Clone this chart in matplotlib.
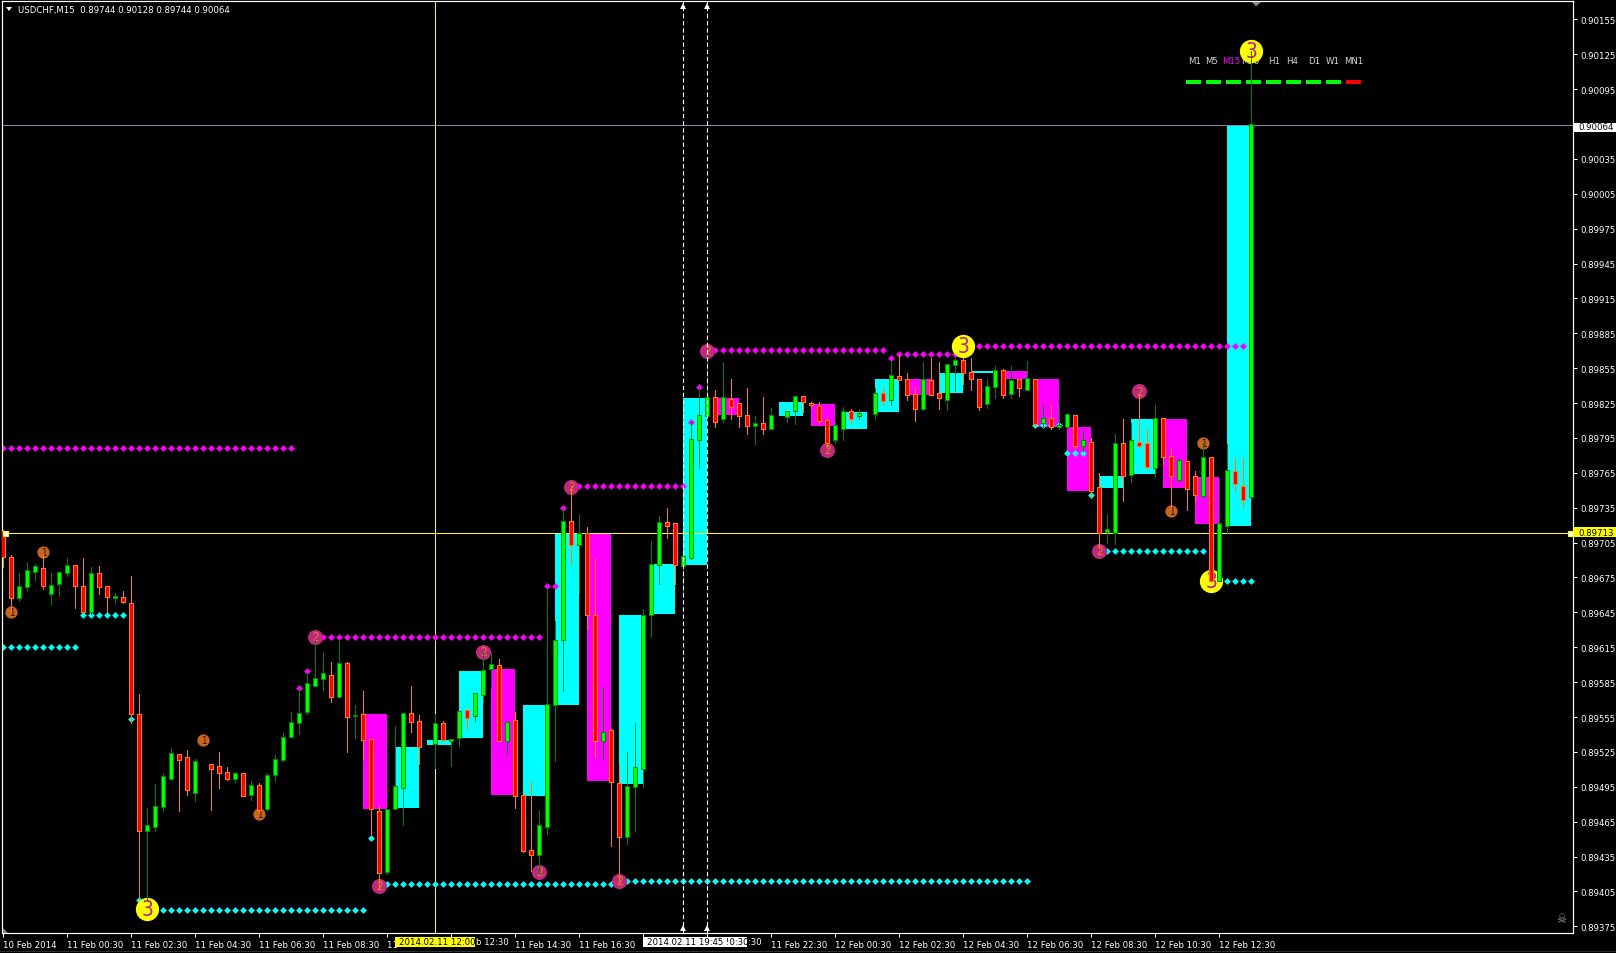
import numpy as np
import matplotlib
matplotlib.use("Agg")
import matplotlib.pyplot as plt
from matplotlib.lines import Line2D
from matplotlib.patches import Polygon, Rectangle

W, H = 1616, 954
n = np.nan

# USDCHF M15 candles, prices in 1e-5 (np.nan where no candle can be seen)
opens = [89714, 89692, 89657, 89667, 89680, 89682, 89661, 89669, 89679, 89685,
         89667, 89645, 89678, 89667, 89657, 89657, 89652, 89557, 89457, 89460,
         89478, 89502, 89522, 89520, 89490, n, 89514, 89512, 89507, 89502,
         89506, 89488, 89496, 89476, 89505, 89518, 89538, 89550, 89559, 89582,
         89588, 89590, 89572, 89601, 89556, 89557, 89535, 89473, 89422, 89476,
         89494, 89558, 89551, n, 89532, 89549, 89534, 89537, 89560, 89556,
         89574, 89596, 89599, 89534, 89552, 89487, 89440, 89436, 89460, 89565,
         89621, 89723, 89703, 89712, 89642, 89534, 89543, 89497, 89452, 89495,
         89510, 89643, 89686, 89722, 89721, 89685, 89692, 89793, 89814, 89829,
         89811, 89828, 89824, 89814, 89805, 89807, 89803, n, 89813, 89818,
         89830, 89824, 89822, 89810, 89793, 89803, 89817, 89814, n, 89816,
         89833, 89828, 89847, 89845, 89832, 89820, 89844, 89833, 89828, 89858,
         89861, 89851, 89845, 89824, 89839, 89853, 89833, 89845, 89836, 89845,
         89808, 89811, 89804, 89804, 89814, 89788, 89791, 89752, 89714, 89713,
         89790, 89763, 89791, 89790, 89769, 89811, 89779, 89759, 89774, 89761,
         89745, 89778, 89672, 89719, 89766, 89753, 89744]
highs = [89716, 89694, 89679, 89688, 89687, 89694, 89679, 89679, 89692, 89685,
         89692, 89684, 89685, 89667, 89662, 89663, 89676, 89575, 89477, 89497,
         89507, 89528, 89522, 89527, 89519, n, 89515, 89525, 89512, 89508,
         89506, 89500, 89498, 89507, 89522, 89541, 89559, 89579, 89593, 89622,
         89611, 89602, 89622, 89602, 89565, 89577, 89535, 89479, 89475, 89547,
         89558, 89582, 89557, n, 89558, 89552, 89535, 89559, 89562, 89575,
         89611, 89611, 89605, 89550, 89559, 89488, 89500, 89475, 89666, 89638,
         89734, 89754, 89729, 89718, 89692, 89581, 89545, 89514, 89525, 89550,
         89648, 89706, 89728, 89735, 89721, 89693, 89809, 89838, 89869, 89836,
         89860, 89846, 89824, 89838, 89814, 89830, 89821, n, 89817, 89830,
         89830, 89826, 89826, 89812, 89810, 89822, 89820, 89820, n, 89838,
         89838, 89861, 89866, 89851, 89839, 89860, 89864, 89860, 89859, 89864,
         89864, 89864, 89846, 89846, 89857, 89854, 89857, 89846, 89861, 89845,
         89823, 89823, 89824, 89815, 89814, 89801, 89795, 89765, 89730, 89798,
         89811, 89808, 89834, 89803, 89823, 89812, 89786, 89778, 89774, 89767,
         89791, 89778, 89760, 89790, 89778, 89778, 90128]
lows = [89684, 89645, 89655, 89664, 89673, 89665, 89651, 89659, 89676, 89649,
        89645, 89644, 89661, 89645, 89653, 89653, 89550, 89399, 89398, 89457,
        89474, 89502, 89474, 89488, 89483, n, 89475, 89494, 89501, 89499,
        89487, 89484, 89473, 89474, 89500, 89517, 89538, 89540, 89558, 89582,
        89578, 89568, 89572, 89525, 89537, 89519, 89453, 89407, 89420, 89476,
        89462, 89542, 89515, n, 89511, 89535, 89513, 89530, 89545, 89552,
        89568, 89582, 89534, 89523, 89477, 89439, 89423, 89420, 89454, 89517,
        89577, 89687, 89662, 89631, 89521, 89519, 89444, 89414, 89446, 89457,
        89495, 89624, 89669, 89709, 89669, 89662, 89691, 89769, 89814, 89804,
        89809, 89811, 89804, 89798, 89790, 89798, 89803, n, 89809, 89807,
        89817, 89821, 89807, 89786, 89791, 89793, 89807, 89811, n, 89811,
        89823, 89823, 89845, 89828, 89810, 89819, 89832, 89820, 89819, 89835,
        89841, 89836, 89819, 89821, 89829, 89829, 89829, 89831, 89836, 89806,
        89804, 89803, 89803, 89804, 89786, 89784, 89745, 89700, 89705, 89704,
        89741, 89757, 89787, 89768, 89761, 89773, 89735, 89758, 89733, 89740,
        89744, 89672, 89672, 89712, 89749, 89736, 89744]
closes = [89693, 89657, 89667, 89681, 89684, 89668, 89668, 89679, 89685, 89668,
          89645, 89678, 89667, 89658, 89658, 89654, 89558, 89457, 89461, 89478,
          89503, 89523, 89518, 89492, 89516, n, 89510, 89507, 89502, 89506,
          89487, 89496, 89475, 89504, 89518, 89537, 89550, 89558, 89583, 89588,
          89592, 89572, 89601, 89555, 89556, 89535, 89476, 89421, 89475, 89495,
          89558, 89551, 89529, n, 89549, 89535, 89535, 89559, 89554, 89575,
          89595, 89600, 89534, 89550, 89487, 89440, 89436, 89461, 89565, 89620,
          89723, 89703, 89712, 89643, 89534, 89541, 89499, 89452, 89495, 89511,
          89642, 89686, 89722, 89719, 89686, 89693, 89793, 89814, 89829, 89809,
          89829, 89822, 89814, 89805, 89807, 89803, 89814, n, 89817, 89830,
          89826, 89823, 89810, 89791, 89805, 89817, 89811, 89816, n, 89833,
          89827, 89848, 89845, 89832, 89820, 89845, 89832, 89829, 89858, 89861,
          89851, 89846, 89822, 89839, 89853, 89832, 89844, 89838, 89846, 89807,
          89811, 89804, 89805, 89815, 89788, 89792, 89749, 89713, 89716, 89790,
          89762, 89792, 89788, 89770, 89811, 89779, 89762, 89775, 89751, 89746,
          89778, 89672, 89721, 89767, 89755, 89742, 90064]

# zone boxes, each one three bars wide
box_start = [45, 49, 53, 57, 61, 65, 69, 73, 77, 81, 85, 89, 97, 101,
             105, 109, 113, 117, 121, 125, 129, 133, 137, 141, 145, 149, 153]
box_top = [89558, 89529, 89535, 89595, 89596, 89565, 89712, 89712, 89643, 89687, 89829, 89829, 89826, 89824,
           89817, 89846, 89846, 89851, 89853, 89853, 89846, 89804, 89762, 89811, 89811, 89761, 90064]
box_bottom = [89476, 89477, 89531, 89537, 89488, 89487, 89565, 89500, 89497, 89644, 89686, 89815, 89814, 89805,
              89803, 89817, 89832, 89834, 89851, 89846, 89804, 89749, 89752, 89764, 89752, 89721, 89719]
box_up = [0, 1, 1, 1, 0, 1, 1, 0, 1, 1, 1, 0, 1, 0,
          1, 1, 0, 1, 1, 0, 0, 0, 1, 1, 0, 0, 1]

# dotted levels: first bar, last bar, price
cyan_runs = [(0, 9, 89615), (10, 15, 89643), (16, 16, 89553), (17, 17, 89398), (18, 45, 89389),
             (46, 46, 89451), (47, 76, 89411), (77, 128, 89414), (129, 132, 89806), (133, 135, 89782),
             (136, 136, 89746), (137, 150, 89698), (151, 156, 89672)]
magenta_runs = [(0, 36, 89786), (37, 37, 89580), (38, 38, 89595), (39, 67, 89624), (68, 69, 89668),
                (70, 70, 89735), (71, 85, 89754), (86, 86, 89809), (87, 87, 89839), (88, 110, 89871),
                (111, 111, 89864), (112, 119, 89867), (120, 155, 89874)]

# numbered circles: bar, price
circles_3 = [(18, 89390), (120, 89874), (151, 89672), (156, 90128)]
circles_2 = [(39, 89624), (47, 89410), (60, 89611), (67, 89422), (71, 89753),
             (77, 89414), (88, 89870), (103, 89785), (137, 89698), (142, 89835)]
circles_1 = [(1, 89645), (5, 89697), (25, 89535), (32, 89472), (146, 89732), (150, 89791)]

y_ticks = [90155, 90125, 90095, 90035, 90005, 89975, 89945, 89915, 89885, 89855, 89825, 89795, 89765,
           89735, 89705, 89675, 89645, 89615, 89585, 89555, 89525, 89495, 89465, 89435, 89405, 89375]
# labels partly hidden by the two time boxes keep only what can be read
x_labels = ["10 Feb 2014", "11 Feb 00:30", "11 Feb 02:30", "11 Feb 04:30", "11 Feb 06:30", "11 Feb 08:30",
            "11", "", "11 Feb 14:30", "11 Feb 16:30", "", "",
            "11 Feb 22:30", "12 Feb 00:30", "12 Feb 02:30", "12 Feb 04:30", "12 Feb 06:30", "12 Feb 08:30",
            "12 Feb 10:30", "12 Feb 12:30"]
tf_names = ["M1", "M5", "M15", "M30", "H1", "H4", "D1", "W1", "MN1"]
tf_x = [1194.3, 1211, 1231.7, 1250.7, 1273.7, 1292, 1313.7, 1333, 1353.3]
tf_signal = ["#00FF00"] * 8 + ["#FF0000"]

current_price = 0.90064
cross_price = 0.89713
cross_bar = 54
range_bars = [85, 88]

plt.rcParams["font.family"] = ["DejaVu Sans"]
plt.rcParams["font.stretch"] = "condensed"
FONT = 6.8
PX = 0.72  # one pixel, in points


def fx(x):
    return x / W


def fy(y):
    return 1 - y / H


def price(v):
    return np.asarray(v, dtype=float) / 1e5


fig = plt.figure(figsize=(W / 100, H / 100), dpi=100, facecolor="black")
left, right, top, bottom = 2.3, 1572.7, 2.3, 934
ax = fig.add_axes([fx(left), fy(bottom), fx(right - left), (bottom - top) / H], facecolor="black")
ax.set_xlim((left - 3.3) / 8, (right - 3.3) / 8)
ax.set_ylim(0.89713 - (bottom - 534.3) * 0.86e-5, 0.89713 + (534.3 - top) * 0.86e-5)

# boxes
for s, t, b, up in zip(box_start, box_top, box_bottom, box_up):
    ax.bar(s, price(t - b), width=3, bottom=price(b), align="edge",
           color="#00FFFF" if up else "#FF00FF", linewidth=0, zorder=1, antialiased=False)

# crosshair and lines
ax.axhline(cross_price, color="#FFFF00", lw=PX, zorder=2, antialiased=False)
ax.axvline(cross_bar, color="#FFFF00", lw=PX, zorder=2, antialiased=False)
ax.axhline(current_price, color="#8A8AA0", lw=PX, zorder=2, antialiased=False)
for b in range_bars:
    ax.axvline(b, color="white", lw=PX * 1.1, ls=(0, (4, 2.5)), zorder=6)
    ax.plot([b], [0.995], "^", color="white", ms=4, mew=0, transform=ax.get_xaxis_transform(), zorder=6)
    ax.plot([b], [0.005], "^", color="white", ms=4, mew=0, transform=ax.get_xaxis_transform(), zorder=6)
ax.plot([0.0015, 0.9985], [cross_price] * 2, "s", ms=3.6, mfc="white", mec="#FFFF00", mew=0.8,
        transform=ax.get_yaxis_transform(), zorder=7, clip_on=False)

# timeframe panel
for name, x in zip(tf_names, tf_x):
    ax.text(fx(x), fy(61.7), name, color="#FF00FF" if name == "M15" else "#D8D8D8", fontsize=FONT,
            ha="center", va="center", transform=fig.transFigure, zorder=2.4)
for k, col in enumerate(tf_signal):
    x0 = 1185.7 + 20 * k
    ax.plot([fx(x0), fx(x0 + 15.3)], [fy(82.7)] * 2, color=col, lw=4 * PX, solid_capstyle="butt",
            transform=fig.transFigure, zorder=2.4)

# dotted levels
for runs, col in ((cyan_runs, "#00FFFF"), (magenta_runs, "#FF00FF")):
    for a, b, p in runs:
        xs = np.arange(a, b + 1)
        ax.scatter(xs, np.full(len(xs), price(p)), marker="D", s=12, color=col, linewidths=0, zorder=2.5)

# numbered circles
for pts, size, face, num, tcol, fsize in ((circles_3, 280, "#FFFF00", "3", "#C01AA0", 15),
                                           (circles_2, 118, "#C0287E", "2", "#E08020", 8.5),
                                           (circles_1, 78, "#C8641E", "1", "#301000", 7)):
    for b, p in pts:
        ax.scatter([b], [price(p)], s=size, color=face, linewidths=0, zorder=2.6)
        ax.text(b, price(p), num, color=tcol, fontsize=fsize, ha="center", va="center", zorder=2.7)

# candles: a wick, an outline bar 5px wide and a fill bar 3px wide
opens, highs, lows, closes = map(price, (opens, highs, lows, closes))
bars = np.arange(len(opens))
ups = closes >= opens
pad = 0.86e-5
for mask, wick, edge, fill in ((ups, "#008000", "#008A00", "#00FF00"), (~ups, "#FF8000", "#FF8000", "#FF0000")):
    ax.vlines(bars[mask], lows[mask], highs[mask], color=wick, lw=PX, zorder=3, antialiased=False)
    bot = np.minimum(opens, closes)[mask]
    hgt = np.abs(closes - opens)[mask]
    ax.bar(bars[mask], hgt + 2 * pad, bottom=bot - pad, width=0.625, color=edge, linewidth=0,
           zorder=4, antialiased=False)
    ax.bar(bars[mask], hgt, bottom=bot, width=0.375, color=fill, linewidth=0, zorder=4.1, antialiased=False)

# axes
for sp in ax.spines.values():
    sp.set_color("white")
    sp.set_linewidth(PX * 1.2)
ax.yaxis.tick_right()
ax.set_yticks(price(y_ticks), [f"{v / 1e5:.5f}" for v in y_ticks])
ax.set_xticks(np.arange(len(x_labels)) * 8, x_labels, ha="left")
ax.tick_params(axis="y", colors="white", length=3, width=PX, pad=2.5, labelsize=FONT)
ax.tick_params(axis="x", colors="white", length=3, width=PX, pad=2, labelsize=FONT)

# header and other overlays, all in figure pixels
fig.text(fx(18), fy(10.5), "USDCHF,M15  0.89744 0.90128 0.89744 0.90064", color="white", fontsize=FONT,
         ha="left", va="center")
fig.text(fx(476), fy(943), "b 12:30", color="white", fontsize=FONT, ha="left", va="center")
fig.text(fx(748), fy(943), ":30", color="white", fontsize=FONT, ha="left", va="center")


def poly(points, color):
    fig.add_artist(Polygon([(fx(a), fy(b)) for a, b in points], closed=True, color=color, lw=0,
                           transform=fig.transFigure, zorder=5))


poly([(6, 8), (12, 8), (9, 12)], "white")
poly([(1252, 3), (1261, 3), (1256, 7.5)], "#808890")
poly([(3, 929), (3, 934), (8, 934)], "#808890")
fig.text(fx(1561.7), fy(920), "\u2620", color="#8A9088", fontsize=9, ha="center", va="center")


def label_box(x0, x1, y0, y1, face, text, x_text, color="black"):
    fig.add_artist(Rectangle((fx(x0), fy(y1)), fx(x1 - x0), (y1 - y0) / H, color=face, lw=0,
                             transform=fig.transFigure, zorder=5))
    fig.text(fx(x_text), fy((y0 + y1) / 2), text, color=color, fontsize=FONT, ha="left", va="center", zorder=6)


label_box(1574, 1616, 123.5, 132.5, "white", "0.90064", 1578)
label_box(1574, 1616, 528, 538.3, "#FFFF00", "0.89713", 1578)
label_box(395, 475, 938, 948, "#FFFF00", "2014.02.11 12:00", 399)
label_box(643, 746.7, 938, 948, "white", "2014.02.11 19:45 !0:30", 647)

fig.add_artist(Line2D([0, 1], [fy(952)] * 2, color="#5A5A5A", lw=PX, ls=(0, (1, 1)), transform=fig.transFigure))

fig.savefig("out.png", dpi=100, facecolor="black")
